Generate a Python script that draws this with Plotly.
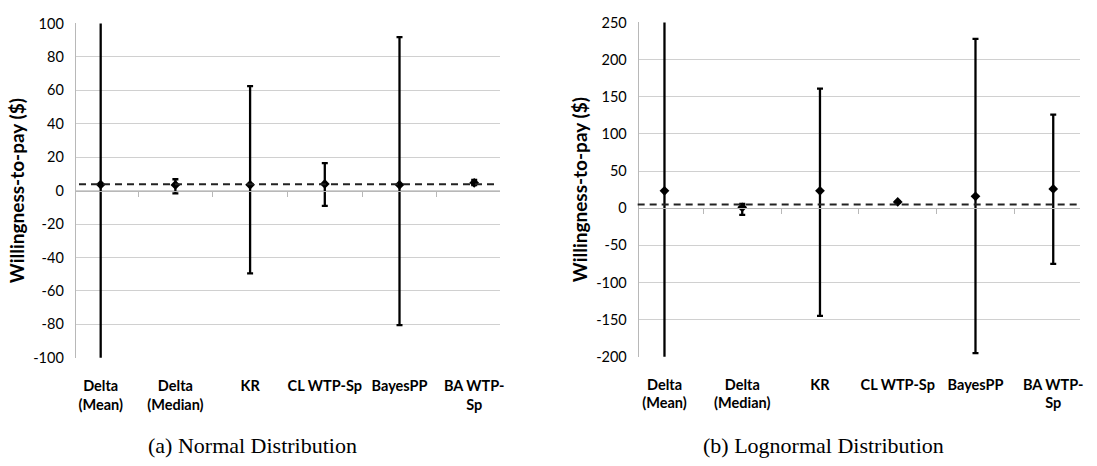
import plotly.graph_objects as go

categories = ["Delta<br>(Mean)", "Delta<br>(Median)", "KR", "CL WTP-Sp", "BayesPP", "BA WTP-<br>Sp"]

normal_est = [3.6, 3.4, 3.5, 4.0, 3.5, 4.7]
normal_low = [-112, -1.6, -49.5, -9.1, -80.5, 3.3]
normal_high = [118, 6.8, 62.5, 16.4, 91.8, 6.4]
normal_ref = 3.8
normal_ticks = [-100, -80, -60, -40, -20, 0, 20, 40, 60, 80, 100]

logn_est = [23.5, 1.3, 23.5, 8.5, 16.0, 26.0]
logn_low = [-230, -9.0, -145, 7.6, -195, -75]
logn_high = [280, 6.0, 161, 9.4, 228, 126]
logn_ref = 5.0
logn_ticks = [-200, -150, -100, -50, 0, 50, 100, 150, 200, 250]

W, H = 1097, 466
FONT = "Lato"

xdom1 = [75 / W, 502 / W]
xdom2 = [640 / W, 1084 / W]
ydom1 = [1 - 362 / H, 1 - 15 / H]
ydom2 = [1 - 361 / H, 1 - 14 / H]
yr1 = [normal_ticks[0], normal_ticks[-1]]
yr2 = [logn_ticks[0], logn_ticks[-1]]


def zero_pos(dom, rng):
    return dom[0] + (0 - rng[0]) / (rng[1] - rng[0]) * (dom[1] - dom[0])


def err_trace(est, low, high, xa, ya):
    return go.Scatter(
        x=categories, y=est, xaxis=xa, yaxis=ya, mode="markers",
        marker=dict(symbol="diamond", size=7.5, color="black"),
        error_y=dict(type="data", symmetric=False,
                     array=[h - e for h, e in zip(high, est)],
                     arrayminus=[e - l for e, l in zip(est, low)],
                     color="black", thickness=2.3, width=3),
        showlegend=False, cliponaxis=True,
    )


fig = go.Figure()
fig.add_trace(err_trace(normal_est, normal_low, normal_high, "x", "y"))
fig.add_trace(err_trace(logn_est, logn_low, logn_high, "x2", "y2"))

grid = "#d0d0d0"
axline = "#b8b8b8"


def xaxis(dom, pos, standoff):
    return dict(domain=dom, type="category", categoryarray=categories,
                categoryorder="array", anchor="free", position=pos,
                showline=True, linecolor=axline, linewidth=1,
                ticks="outside", ticklen=5, tickcolor=axline,
                tickson="boundaries", showgrid=False, zeroline=False,
                tickangle=0, ticklabelstandoff=standoff,
                tickfont=dict(family=FONT, size=14.5, color="black", weight="bold"),
                fixedrange=True)


def yaxis(dom, rng, ticks, xpos):
    return dict(domain=dom, range=rng, tickvals=ticks,
                ticktext=[str(t) for t in ticks],
                anchor="free", position=xpos,
                showline=True, linecolor=axline, linewidth=1,
                showgrid=True, gridcolor=grid, gridwidth=1, zeroline=False,
                ticks="", ticklabelstandoff=8,
                tickfont=dict(family=FONT, size=14.5, color="black"),
                title=dict(text="Willingness-to-pay ($)", standoff=2,
                           font=dict(family=FONT, size=19, color="black", weight="bold")),
                fixedrange=True)


fig.update_layout(
    width=W, height=H,
    margin=dict(l=0, r=0, t=0, b=0),
    paper_bgcolor="white", plot_bgcolor="white",
    font=dict(family=FONT, color="black"),
    xaxis=xaxis(xdom1, zero_pos(ydom1, yr1), 182),
    yaxis=yaxis(ydom1, yr1, normal_ticks, xdom1[0]),
    xaxis2=xaxis(xdom2, zero_pos(ydom2, yr2), 163),
    yaxis2=yaxis(ydom2, yr2, logn_ticks, xdom2[0]),
    shapes=[
        dict(type="line", xref="x domain", yref="y", x0=0.01, x1=0.99,
             y0=normal_ref, y1=normal_ref,
             line=dict(color="#222222", width=2, dash="7px,5px")),
        dict(type="line", xref="x2 domain", yref="y2", x0=0.0, x1=1.0,
             y0=logn_ref, y1=logn_ref,
             line=dict(color="#222222", width=2, dash="7px,5px")),
    ],
    annotations=[
        dict(text="(a) Normal Distribution", xref="paper", yref="paper",
             x=253 / W, y=1 - 453 / H, xanchor="center", yanchor="middle",
             showarrow=False, font=dict(family="Liberation Serif", size=22, color="black")),
        dict(text="(b) Lognormal Distribution", xref="paper", yref="paper",
             x=827 / W, y=1 - 453 / H, xanchor="center", yanchor="middle",
             showarrow=False, font=dict(family="Liberation Serif", size=22, color="black")),
    ],
)

fig.write_html("out.html")
